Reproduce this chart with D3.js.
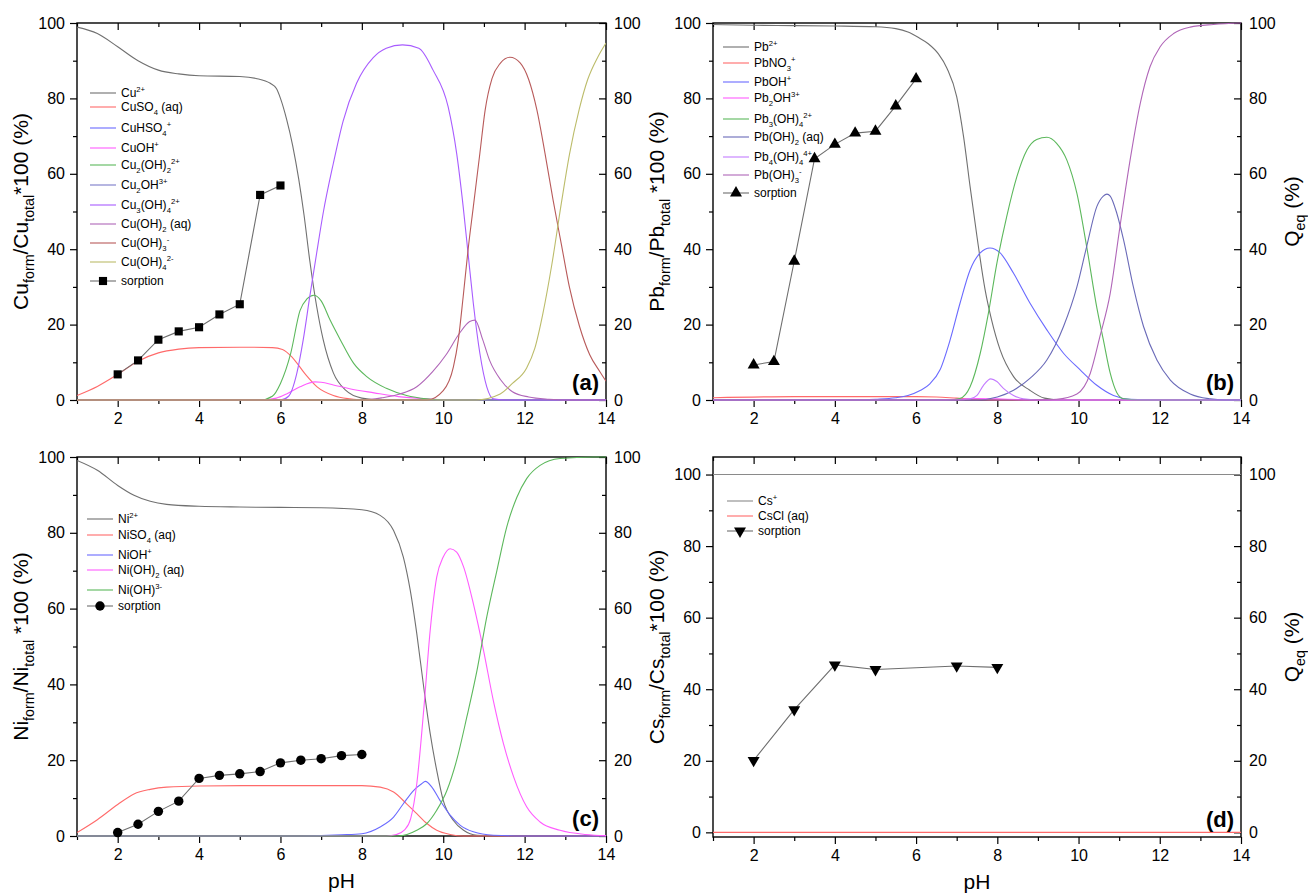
<!DOCTYPE html>
<html>
<head>
<meta charset="utf-8">
<script src="https://cdn.jsdelivr.net/npm/d3@7"></script>
<style>
  body { margin: 0; background: #fff; }
  svg { display: block; font-family: "Liberation Sans", Arial, sans-serif; }
  text { white-space: pre; }
</style>
</head>
<body>
<svg id="chart" width="1308" height="894"></svg>
<script>
// ---------- (a) Cu speciation, [pH, % of total] ----------
const cu2 = [[1,98.9],[1.5,97.2],[2,93.7],[2.5,90],[3,87.5],[3.5,86.5],[4,86],[5,85.8],[5.4,85.3],[5.75,84],[5.9,82.6],[6,80],[6.15,74.5],[6.3,67.5],[6.45,58.5],[6.58,49],[6.72,37],[6.89,24.8],[7.05,16],[7.3,7.2],[7.6,2.6],[8,0.5],[8.5,0],[14,0]];
const cuSO4 = [[1,1.2],[1.5,3.6],[2,6.8],[2.5,10.3],[3,12.5],[3.5,13.5],[4,13.9],[5,14],[5.8,13.9],[6.05,13.4],[6.3,11.2],[6.6,7],[6.9,3.5],[7.3,1.2],[7.7,0.3],[8,0],[14,0]];
const cuHSO4 = [[1,0.1],[3,0],[14,0]];
const cuOH = [[1,0],[5.5,0],[5.9,0.5],[6.15,1.6],[6.48,3.5],[6.85,4.8],[7,4.7],[7.3,4],[7.7,3],[8.3,1.9],[8.9,0.9],[9.6,0.3],[10.2,0],[14,0]];
const cu2OH2 = [[1,0],[5.5,0],[5.8,1],[6,4.4],[6.25,12.3],[6.48,23.7],[6.65,26.8],[6.82,27.8],[7,26.3],[7.22,21.2],[7.47,16],[7.8,9.7],[8.12,6.2],[8.6,3.1],[9.1,1.2],[9.6,0.3],[10,0],[14,0]];
const cu2OH = [[1,0],[14,0]];
const cu3OH4 = [[1,0],[6,0],[6.2,1],[6.4,7],[6.56,16],[6.72,27.4],[6.89,39],[7.05,49.6],[7.3,62.8],[7.54,74],[7.87,84],[8.28,90.8],[8.6,93.3],[9,94.2],[9.4,93.3],[9.75,87.5],[10.12,77.8],[10.33,65.4],[10.49,51.3],[10.61,38.9],[10.74,25.6],[10.9,12.4],[11.07,3.5],[11.23,0.3],[11.5,0],[14,0]];
const cuOH2 = [[1,0],[8,0],[8.5,0.6],[8.94,1.6],[9.35,3.5],[9.74,7.5],[10.07,12],[10.4,17.7],[10.65,20.8],[10.78,21.2],[10.97,16],[11.14,10.5],[11.4,5.5],[11.7,2.2],[12.1,0.8],[12.6,0.2],[13,0],[14,0]];
const cuOH3 = [[1,0],[9.6,0],[10,2.5],[10.25,8.8],[10.37,15.9],[10.49,27.4],[10.61,39.8],[10.74,51.3],[10.9,65.4],[11.03,76.9],[11.2,85.3],[11.4,89.3],[11.64,90.9],[11.89,89.4],[12.1,85],[12.3,77],[12.5,65.5],[12.7,53],[12.9,41.5],[13.1,30],[13.35,19.5],[13.6,12],[13.85,7.5],[14,5]];
const cuOH4 = [[1,0],[10.8,0],[11.4,1.6],[11.7,4.4],[12.05,8.5],[12.25,13.7],[12.45,23],[12.67,36],[12.9,52],[13.1,65],[13.34,77],[13.55,85],[13.8,91],[14,94.7]];
const cuSorpPH = [2,2.5,3,3.5,4,4.5,5,5.5,6];
const cuSorpQ = [6.8,10.5,16,18.2,19.3,22.7,25.4,54.4,56.9];

// ---------- (b) Pb speciation ----------
const pb2 = [[1,99.6],[2,99.4],[3,99.3],[4,99.2],[5,99],[5.5,98.5],[5.8,97.6],[6.05,96.2],[6.3,94.5],[6.55,91.8],[6.76,88],[7,80.5],[7.17,69.8],[7.33,56.6],[7.5,43.3],[7.7,29.2],[7.86,21.2],[8.07,13.3],[8.4,6.2],[8.8,2.6],[9.16,0.5],[9.6,0],[14,0]];
const pbNO3 = [[1,0.6],[3,0.9],[6,0.9],[6.5,0.8],[7,0.5],[7.5,0.2],[8,0],[14,0]];
const pbOH = [[1,0],[4.5,0],[5,0.2],[5.5,0.6],[5.8,1.2],[6.1,2.5],[6.34,4.3],[6.59,8],[6.84,16],[7.08,25.6],[7.33,34.5],[7.58,39],[7.82,40.3],[8.07,39],[8.4,33.6],[8.81,25.6],[9.22,18.6],[9.63,12.4],[10.04,8],[10.45,3.9],[10.86,1.2],[11.27,0.2],[12,0],[14,0]];
const pb2OH = [[1,0],[6.5,0],[7,0.2],[7.5,0.4],[8,0.3],[8.5,0.1],[9,0],[14,0]];
const pb3OH4 = [[1,0],[6.8,0],[7.08,0.4],[7.33,3.5],[7.58,12.4],[7.78,23],[7.99,36.3],[8.23,48.6],[8.48,59.2],[8.73,66.3],[8.97,69.1],[9.22,69.7],[9.46,68.1],[9.71,63.7],[9.96,54.8],[10.2,40.7],[10.45,24.5],[10.61,16],[10.78,7.1],[10.94,2],[11.11,0.3],[11.5,0],[14,0]];
const pbOH2 = [[1,0],[7.5,0],[8,0.8],[8.4,2.6],[8.81,5.8],[9.22,10.6],[9.63,19.5],[9.96,30],[10.2,40.7],[10.45,51.3],[10.61,54.1],[10.7,54.6],[10.78,54.1],[10.94,49.6],[11.11,42.4],[11.35,30],[11.6,19.5],[11.93,10.6],[12.26,5.3],[12.75,1.6],[13.24,0.3],[13.6,0],[14,0]];
const pb4OH4 = [[1,0],[7,0],[7.33,0.3],[7.5,1.2],[7.66,3.9],[7.84,5.6],[7.99,4.9],[8.15,3.1],[8.4,1.2],[8.64,0.3],[9,0],[14,0]];
const pbOH3 = [[1,0],[9,0],[9.46,0.2],[9.96,1.6],[10.29,7.1],[10.53,17],[10.78,28.3],[11.02,46],[11.27,63.7],[11.52,78.7],[11.76,88.4],[12.01,93.7],[12.34,97.2],[12.75,98.9],[13.32,99.6],[14,100]];
const pbSorpPH = [2,2.5,3,3.5,4,4.5,5,5.5,6];
const pbSorpQ = [9.3,10.2,36.8,64,67.8,70.8,71.3,78,85.2];

// ---------- (c) Ni speciation ----------
const ni2 = [[1,99.1],[1.5,96.5],[2,92.5],[2.4,89.9],[2.8,88.3],[3.2,87.5],[4,87],[5,86.8],[6,86.7],[7,86.6],[8,86.1],[8.45,84.6],[8.78,80.6],[9.02,73.6],[9.19,64.8],[9.35,53.4],[9.52,39.3],[9.68,27],[9.84,17.3],[10,9.4],[10.25,4.1],[10.5,1.5],[10.83,0.2],[11.5,0],[14,0]];
const niSO4 = [[1,0.9],[1.5,4.3],[2,8.3],[2.4,11.1],[2.8,12.3],[3.2,12.9],[4,13.2],[6,13.3],[8,13.3],[8.45,12.9],[8.78,11.6],[9.1,8.5],[9.35,5.9],[9.6,3.3],[9.84,1.5],[10.17,0.4],[10.5,0],[14,0]];
const niOH = [[1,0],[6.5,0],[7,0.1],[7.5,0.3],[8,0.6],[8.45,2.4],[8.78,5],[9.02,8.5],[9.27,12],[9.47,13.8],[9.56,14.4],[9.72,12.9],[9.92,9.4],[10.17,5.5],[10.42,2.8],[10.74,1.1],[11.23,0.2],[12,0],[14,0]];
const niOH2 = [[1,0],[8.6,0],[8.85,0.4],[9.05,1.6],[9.2,4.6],[9.35,13.8],[9.52,33.2],[9.68,54.3],[9.84,68.3],[10,73.6],[10.17,75.8],[10.33,74.9],[10.5,71],[10.74,61.3],[10.99,49],[11.23,35.8],[11.48,24.4],[11.73,15.6],[12.05,7.7],[12.38,3.7],[12.87,1.5],[13.5,0.4],[14,0.1]];
const niOH3 = [[1,0],[8.9,0],[9.35,1.5],[9.6,3.3],[9.84,6.8],[10.09,12],[10.33,20],[10.58,31.4],[10.83,43.7],[11.07,57.8],[11.32,70.1],[11.56,81.5],[11.81,89.4],[12.05,94.3],[12.38,97.8],[12.87,99.6],[13.7,100],[14,100]];
const niSorpPH = [2,2.5,3,3.5,4,4.5,5,5.5,6,6.5,7,7.5,8];
const niSorpQ = [0.9,3.1,6.5,9.2,15.2,16,16.4,17,19.3,20,20.4,21.2,21.5];

// ---------- (d) Cs speciation ----------
const cs1 = [[1,100],[14,100]];
const csCl = [[1,0],[14,0]];
const csSorpPH = [2,3,4,5,7,8];
const csSorpQ = [20.1,34.3,46.8,45.5,46.5,46.1];

// ---------- axis ticks ----------
const pHMajor = [2,4,6,8,10,12,14];
const pHMinor = [1,3,5,7,9,11,13];
const pctMajor = [0,20,40,60,80,100];
const pctMinor = [10,30,50,70,90];

// ---------- drawing ----------
const svg = d3.select("#chart");

// append text with _{sub} and ^{sup} markup as tspans
function rich(sel, str, fs, subScale) {
  const parts = str.split(/(_\{[^}]*\}|\^\{[^}]*\})/).filter(s => s.length);
  let shift = 0;
  parts.forEach(p => {
    let target = 0, t = p, size = fs;
    if (p.startsWith("_{")) { target = 0.28 * fs; t = p.slice(2, -1); size = subScale * fs; }
    else if (p.startsWith("^{")) { target = -0.42 * fs; t = p.slice(2, -1); size = subScale * fs; }
    sel.append("tspan").attr("dy", target - shift).attr("font-size", size).text(t);
    shift = target;
  });
  return sel;
}

const C = {
  gray: "#707070", red: "#ff6a6a", blue: "#6a6aff", magenta: "#ff5cff",
  green: "#5cb85c", navy: "#7a7ac8", violet: "#a85cff", purple: "#b066b8",
  wine: "#b85a5a", olive: "#bcbc6a", lilac: "#c47cff", slate: "#6a6ab8"
};

const panels = [
  {
    id: "a", left: 77, right: 606, top: 23, bottom: 400, yDom: [0, 100],
    title: "Cu_{form}/Cu_{total}*100 (%)", rightTitle: null,
    legendX: 90, legendY: [93, 107, 128, 148, 165, 185, 205, 224, 243, 262, 281],
    series: [
      ["Cu^{2+}", cu2, C.gray], ["CuSO_{4} (aq)", cuSO4, C.red], ["CuHSO_{4}^{+}", cuHSO4, C.blue],
      ["CuOH^{+}", cuOH, C.magenta], ["Cu_{2}(OH)_{2}^{2+}", cu2OH2, C.green], ["Cu_{2}OH^{3+}", cu2OH, C.navy],
      ["Cu_{3}(OH)_{4}^{2+}", cu3OH4, C.violet], ["Cu(OH)_{2} (aq)", cuOH2, C.purple],
      ["Cu(OH)_{3}^{-}", cuOH3, C.wine], ["Cu(OH)_{4}^{2-}", cuOH4, C.olive]
    ],
    sorp: [cuSorpPH, cuSorpQ, "square"]
  },
  {
    id: "b", left: 713, right: 1241, top: 23, bottom: 400, yDom: [0, 100],
    title: "Pb_{form}/Pb_{total} *100 (%)", rightTitle: "Q_{eq} (%)",
    legendX: 723, legendY: [47, 63, 82, 98, 119, 137, 157, 175, 193],
    series: [
      ["Pb^{2+}", pb2, C.gray], ["PbNO_{3}^{+}", pbNO3, C.red], ["PbOH^{+}", pbOH, C.blue],
      ["Pb_{2}OH^{3+}", pb2OH, C.magenta], ["Pb_{3}(OH)_{4}^{2+}", pb3OH4, C.green],
      ["Pb(OH)_{2} (aq)", pbOH2, C.slate], ["Pb_{4}(OH)_{4}^{4+}", pb4OH4, C.lilac],
      ["Pb(OH)_{3}^{-}", pbOH3, C.purple]
    ],
    sorp: [pbSorpPH, pbSorpQ, "triangle"]
  },
  {
    id: "c", left: 77, right: 606, top: 457, bottom: 836, yDom: [0, 100],
    title: "Ni_{form}/Ni_{total} *100 (%)", rightTitle: null, xTitle: "pH",
    legendX: 87, legendY: [519, 535, 555, 570, 590, 606],
    series: [
      ["Ni^{2+}", ni2, C.gray], ["NiSO_{4} (aq)", niSO4, C.red], ["NiOH^{+}", niOH, C.blue],
      ["Ni(OH)_{2} (aq)", niOH2, C.magenta], ["Ni(OH)^{3-}", niOH3, C.green]
    ],
    sorp: [niSorpPH, niSorpQ, "circle"]
  },
  {
    id: "d", left: 713, right: 1241, top: 457, bottom: 837, yDom: [-1.3, 104.9],
    title: "Cs_{form}/Cs_{total}*100 (%)", rightTitle: "Q_{eq} (%)", xTitle: "pH",
    legendX: 727, legendY: [501, 516, 531],
    series: [["Cs^{+}", cs1, "#8a8a8a"], ["CsCl (aq)", csCl, C.red]],
    sorp: [csSorpPH, csSorpQ, "triangleDown"]
  }
];

function markerPath(kind) {
  if (kind === "square") return d3.symbol(d3.symbolSquare, 66)();
  if (kind === "circle") return d3.symbol(d3.symbolCircle, 70)();
  return d3.symbol(d3.symbolTriangle, 62)();
}

function styleAxis(g) {
  g.select(".domain").remove();
  g.selectAll(".tick line").attr("stroke", "#000").attr("stroke-width", 1.2);
  g.selectAll("text").attr("font-size", 16).attr("font-family", "Liberation Sans, Arial, sans-serif").attr("fill", "#000");
}

panels.forEach(p => {
  const x = d3.scaleLinear([1, 14], [p.left, p.right]);
  const y = d3.scaleLinear(p.yDom, [p.bottom, p.top]);
  const g = svg.append("g");

  // axes: outward ticks on left/bottom, inward mirrored ticks on top/right
  g.append("g").attr("transform", `translate(${p.left},0)`)
    .call(d3.axisLeft(y).tickValues(pctMajor).tickSizeInner(7).tickSizeOuter(0).tickPadding(5)).call(styleAxis);
  g.append("g").attr("transform", `translate(${p.left},0)`)
    .call(d3.axisLeft(y).tickValues(pctMinor).tickSizeInner(4).tickSizeOuter(0).tickFormat("")).call(styleAxis);
  g.append("g").attr("transform", `translate(${p.right},0)`)
    .call(d3.axisRight(y).tickValues(pctMajor).tickSizeInner(-7).tickSizeOuter(0).tickPadding(8)).call(styleAxis);
  g.append("g").attr("transform", `translate(${p.right},0)`)
    .call(d3.axisRight(y).tickValues(pctMinor).tickSizeInner(-4).tickSizeOuter(0).tickFormat("")).call(styleAxis);
  g.append("g").attr("transform", `translate(0,${p.bottom})`)
    .call(d3.axisBottom(x).tickValues(pHMajor).tickSizeInner(7).tickSizeOuter(0).tickPadding(6)).call(styleAxis);
  g.append("g").attr("transform", `translate(0,${p.bottom})`)
    .call(d3.axisBottom(x).tickValues(pHMinor).tickSizeInner(4).tickSizeOuter(0).tickFormat("")).call(styleAxis);
  g.append("g").attr("transform", `translate(0,${p.top})`)
    .call(d3.axisTop(x).tickValues(pHMajor).tickSizeInner(-7).tickSizeOuter(0).tickFormat("")).call(styleAxis);
  g.append("g").attr("transform", `translate(0,${p.top})`)
    .call(d3.axisTop(x).tickValues(pHMinor).tickSizeInner(-4).tickSizeOuter(0).tickFormat("")).call(styleAxis);

  g.append("rect").attr("x", p.left).attr("y", p.top)
    .attr("width", p.right - p.left).attr("height", p.bottom - p.top)
    .attr("fill", "none").attr("stroke", "#000").attr("stroke-width", 1.4);

  // species curves
  const clipId = "clip-" + p.id;
  svg.append("clipPath").attr("id", clipId).append("rect")
    .attr("x", p.left).attr("y", p.top - 1).attr("width", p.right - p.left).attr("height", p.bottom - p.top + 2);
  const line = d3.line().x(d => x(d[0])).y(d => y(d[1])).curve(d3.curveMonotoneX);
  const plot = g.append("g").attr("clip-path", `url(#${clipId})`);
  p.series.forEach(s => {
    plot.append("path").attr("d", line(s[1])).attr("fill", "none")
      .attr("stroke", s[2]).attr("stroke-width", 1.1);
  });

  // sorption (right axis, same 0–100 scale)
  const [sx, sq, kind] = p.sorp;
  const pts = sx.map((v, i) => [v, sq[i]]);
  g.append("path").attr("d", d3.line().x(d => x(d[0])).y(d => y(d[1]))(pts))
    .attr("fill", "none").attr("stroke", "#6e6e6e").attr("stroke-width", 1.1);
  g.selectAll(null).data(pts).join("path")
    .attr("d", markerPath(kind))
    .attr("transform", d => `translate(${x(d[0])},${y(d[1])})` + (kind === "triangleDown" ? " rotate(180)" : ""))
    .attr("fill", "#000");

  // legend
  const lg = g.append("g");
  const entries = p.series.map(s => [s[0], s[2], null]).concat([["sorption", "#6e6e6e", kind]]);
  entries.forEach((e, i) => {
    const ly = p.legendY[i];
    lg.append("line").attr("x1", p.legendX).attr("x2", p.legendX + 26).attr("y1", ly).attr("y2", ly)
      .attr("stroke", e[1]).attr("stroke-width", 1.1);
    if (e[2]) {
      lg.append("path").attr("d", markerPath(e[2]))
        .attr("transform", `translate(${p.legendX + 13},${ly})` + (e[2] === "triangleDown" ? " rotate(180)" : ""))
        .attr("fill", "#000");
    }
    rich(lg.append("text").attr("x", p.legendX + 31).attr("y", ly + 4.3).attr("font-size", 12).attr("fill", "#000"),
      e[0], 12, 0.64);
  });

  // panel tag
  g.append("text").attr("x", p.right - 7).attr("y", p.bottom - 10)
    .attr("text-anchor", "end").attr("font-size", 22).attr("font-weight", "bold").text(`(${p.id})`);

  // axis titles
  const cy = (p.top + p.bottom) / 2;
  rich(g.append("text").attr("text-anchor", "middle").attr("font-size", 21)
    .attr("transform", `translate(${p.left - 49},${cy}) rotate(-90)`), p.title, 21, 0.68);
  if (p.rightTitle) {
    rich(g.append("text").attr("text-anchor", "middle").attr("font-size", 21)
      .attr("transform", `translate(${p.right + 58},${cy}) rotate(-90)`), p.rightTitle, 21, 0.68);
  }
  if (p.xTitle) {
    g.append("text").attr("x", (p.left + p.right) / 2).attr("y", p.bottom + 52)
      .attr("text-anchor", "middle").attr("font-size", 21).text(p.xTitle);
  }
});
</script>
</body>
</html>
